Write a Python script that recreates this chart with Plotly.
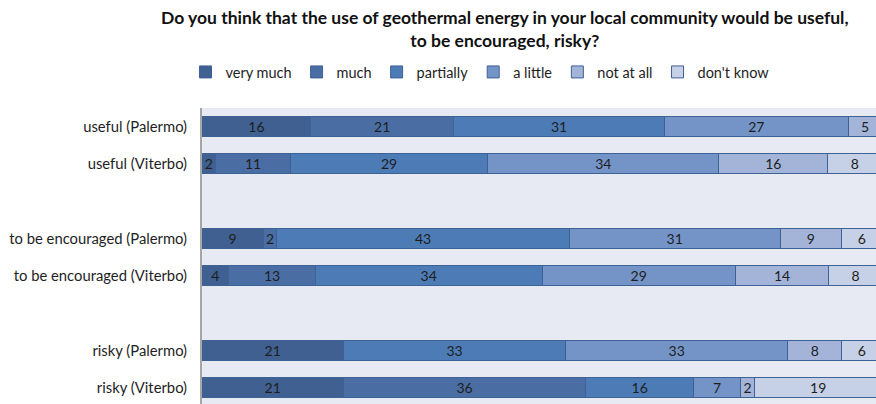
import plotly.graph_objects as go

# Survey answers per question and city (percent of respondents)
categories = [
    "useful (Palermo)",
    "useful (Viterbo)",
    " ",
    "to be encouraged (Palermo)",
    "to be encouraged (Viterbo)",
    "  ",
    "risky (Palermo)",
    "risky (Viterbo)",
]

answers = ["very much", "much", "partially", "a little", "not at all", "don't know"]

very_much = [16, 2, None, 9, 4, None, 21, 21]
much = [21, 11, None, 2, 13, None, 0, 36]
partially = [31, 29, None, 43, 34, None, 33, 16]
a_little = [27, 34, None, 31, 29, None, 33, 7]
not_at_all = [5, 16, None, 9, 14, None, 8, 2]
dont_know = [0, 8, None, 6, 8, None, 6, 19]

title_text = ("Do you think that the use of geothermal energy in your local community would be useful,"
              "<br>to be encouraged, risky?")

series = [very_much, much, partially, a_little, not_at_all, dont_know]
colors = ["#3f6090", "#4a6ea4", "#4d7bb6", "#7494c7", "#a3b4d8", "#c6d0e6"]

FONT = "Lato"
W, H = 876, 404
M_L, M_T = 202, 108

fig = go.Figure()
for name, vals, col in zip(answers, series, colors):
    fig.add_trace(go.Bar(
        y=categories,
        x=vals,
        name=name,
        orientation="h",
        marker=dict(color=col, line=dict(color="#3d6296", width=1)),
        text=[("" if (v is None or v == 0) else str(v)) for v in vals],
        textposition="inside",
        insidetextanchor="middle",
        textangle=0,
        constraintext="none",
        textfont=dict(family=FONT, size=14, color="#1e1e1e"),
        hoverinfo="skip",
    ))

# Chart heading, placed in paper coordinates above the plot area
fig.add_annotation(
    text="<b>" + title_text + "</b>",
    xref="paper", yref="paper",
    x=(505 - M_L) / (W - M_L), y=(H - 29) / (H - M_T),
    xanchor="center", yanchor="middle",
    showarrow=False,
    align="center",
    font=dict(family=FONT, size=17.5, color="#111111"),
)

fig.update_layout(
    width=W,
    height=H,
    barmode="stack",
    barnorm="percent",
    bargap=0.46,
    paper_bgcolor="white",
    plot_bgcolor="#e7eaf3",
    margin=dict(l=M_L, r=0, t=M_T, b=0),
    font=dict(family=FONT, size=14, color="#1e1e1e"),
    legend=dict(
        orientation="h",
        x=480 / W, xref="container", xanchor="center",
        y=1 - 72 / H, yref="container", yanchor="middle",
        font=dict(family=FONT, size=14.5, color="#1e1e1e"),
        itemwidth=30,
        traceorder="normal",
        bgcolor="rgba(0,0,0,0)",
    ),
    showlegend=True,
)

fig.update_xaxes(
    range=[0, 99.1],
    showgrid=False,
    zeroline=False,
    showticklabels=False,
    fixedrange=True,
)

fig.update_yaxes(
    type="category",
    categoryorder="array",
    categoryarray=categories,
    range=[7.44, -0.5],
    showline=True,
    linecolor="#a6a6a6",
    linewidth=2,
    showgrid=False,
    ticks="",
    ticklabelstandoff=10,
    tickfont=dict(family=FONT, size=14.8, color="#1e1e1e"),
)

fig.write_html("out.html")
